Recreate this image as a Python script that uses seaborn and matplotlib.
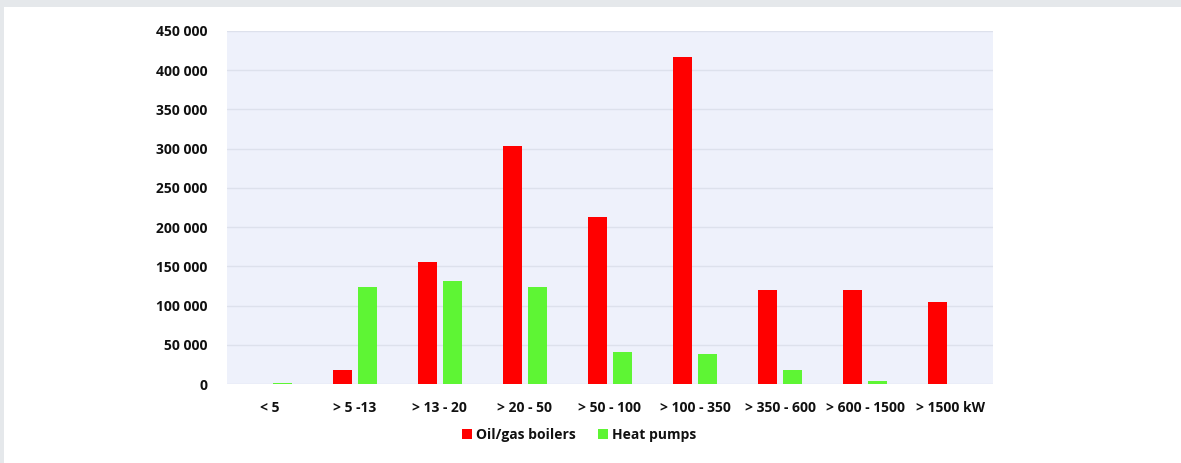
import matplotlib
matplotlib.use("Agg")
import matplotlib.pyplot as plt
from matplotlib.patches import Rectangle
from matplotlib.ticker import FuncFormatter
import seaborn as sns
import pandas as pd

categories = ["< 5", "> 5 -13", "> 13 - 20", "> 20 - 50", "> 50 - 100",
              "> 100 - 350", "> 350 - 600", "> 600 - 1500", "> 1500 kW"]
oil_gas_boilers = [0, 18000, 155000, 303000, 213000, 417000, 120000, 120000, 105000]
heat_pumps = [800, 124000, 131000, 124000, 41000, 38000, 18000, 4000, 0]
series_names = ["Oil/gas boilers", "Heat pumps"]
y_ticks = [0, 50000, 100000, 150000, 200000, 250000, 300000, 350000, 400000, 450000]

df = pd.DataFrame({
    "category": categories * 2,
    "series": [series_names[0]] * len(categories) + [series_names[1]] * len(categories),
    "value": oil_gas_boilers + heat_pumps,
})

sns.set_theme(style="white")
plt.rcParams["font.family"] = ["Open Sans", "DejaVu Sans"]

W, H = 1181, 463
fig = plt.figure(figsize=(W / 100, H / 100), dpi=100, facecolor="#e5e8eb")
# white card inside the thin grey frame
card = Rectangle((4 / W, 0), 1 - 4 / W, (H - 7) / H,
                 transform=fig.transFigure, facecolor="white",
                 edgecolor="none", zorder=-10)
fig.add_artist(card)

ax = fig.add_axes([227 / W, (H - 384) / H, (993 - 227) / W, (384 - 31) / H])
ax.set_zorder(1)
ax.set_facecolor("#eef1fb")

sns.barplot(data=df, x="category", y="value", hue="series",
            palette=["#ff0000", "#5ef534"], width=0.59, gap=0.24,
            saturation=1, linewidth=0, ax=ax, legend=True, order=categories)

ax.set_ylim(0, 450000)
ax.set_yticks(y_ticks)
ax.yaxis.set_major_formatter(FuncFormatter(lambda v, _: f"{int(v):,}".replace(",", " ")))
ax.grid(axis="y", color="#dde1ec", linewidth=1)
ax.set_axisbelow(True)
for s in ax.spines.values():
    s.set_visible(False)
ax.tick_params(axis="both", length=0)
ax.tick_params(axis="y", pad=14)
ax.tick_params(axis="x", pad=12)
for lbl in ax.get_yticklabels() + ax.get_xticklabels():
    lbl.set_fontweight("bold")
    lbl.set_fontsize(10)
    lbl.set_color("#111111")
ax.set_xlabel("")
ax.set_ylabel("")

leg = ax.legend(loc="center", bbox_to_anchor=(0.46, -0.145), ncol=2,
                frameon=False, handlelength=0.7, handleheight=0.7,
                handletextpad=0.3, columnspacing=1.6,
                prop={"weight": "bold", "size": 10})
for t in leg.get_texts():
    t.set_color("#111111")

fig.savefig("out.png", dpi=100, facecolor=fig.get_facecolor())
